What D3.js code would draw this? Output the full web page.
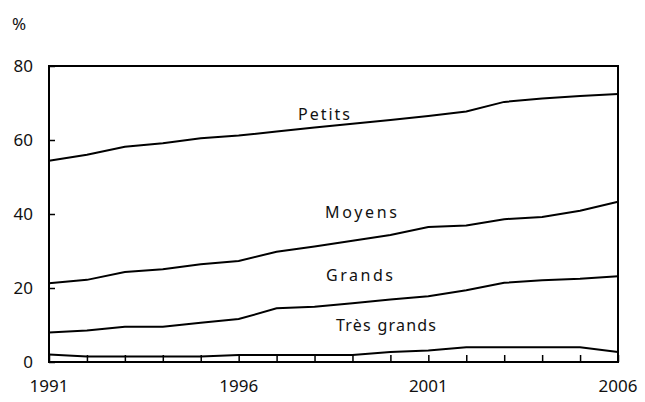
<!DOCTYPE html>
<html><head><meta charset="utf-8">
<script src="https://cdn.jsdelivr.net/npm/d3@7"></script>
<style>
body{margin:0;background:#fff;}
svg text{font-family:"Noto Sans",sans-serif;fill:#111;}
</style></head>
<body><svg id="c" width="645" height="402"></svg>
<script>
const years = [1991,1992,1993,1994,1995,1996,1997,1998,1999,2000,2001,2002,2003,2004,2005,2006];
const petits = [54.4,56.0,58.2,59.1,60.5,61.2,62.3,63.4,64.4,65.4,66.5,67.7,70.3,71.2,71.9,72.4];
const moyens = [21.3,22.2,24.3,25.1,26.4,27.3,29.8,31.2,32.8,34.3,36.5,36.9,38.6,39.2,40.9,43.3];
const grands = [8.0,8.5,9.5,9.5,10.6,11.6,14.5,14.9,15.9,16.9,17.8,19.4,21.4,22.1,22.5,23.2];
const tresGrands = [2.0,1.5,1.5,1.5,1.5,1.9,1.9,1.9,1.9,2.7,3.1,4.0,4.0,4.0,4.0,2.7];
const seriesNames = ["Petits","Moyens","Grands","Très grands"];
const yTicks = [0,20,40,60,80];
const xTickLabels = [1991,1996,2001,2006];

const svg = d3.select("#c");
const L=49,R=618,T=66,B=362;
const x = d3.scaleLinear().domain([1991,2006]).range([L,R]);
const y = d3.scaleLinear().domain([0,80]).range([B,T]);

// frame
svg.append("rect").attr("x",L).attr("y",T).attr("width",R-L).attr("height",B-T)
  .attr("fill","none").attr("stroke","#000").attr("stroke-width",2);

// y axis ticks (inward)
const ya = svg.append("g").attr("transform",`translate(${L},0)`)
  .call(d3.axisRight(y).tickValues(yTicks).tickSize(6).tickFormat(""));
ya.select(".domain").remove();
ya.selectAll("line").attr("stroke","#000").attr("stroke-width",1.5);
svg.selectAll(".ylab").data(yTicks).enter().append("text")
  .attr("x",33).attr("y",d=>y(d)).attr("dy","0.36em").attr("text-anchor","end")
  .attr("font-size",17).text(d=>d);

// x axis ticks (inward, every year)
const xa = svg.append("g").attr("transform",`translate(0,${B})`)
  .call(d3.axisTop(x).tickValues(years).tickSize(7).tickFormat(""));
xa.select(".domain").remove();
xa.selectAll("line").attr("stroke","#000").attr("stroke-width",1.5);
svg.selectAll(".xlab").data(xTickLabels).enter().append("text")
  .attr("x",d=>x(d)).attr("y",392).attr("text-anchor","middle")
  .attr("font-size",17).text(d=>d);

svg.append("text").attr("x",12).attr("y",30).attr("font-size",17).text("%");

const line = d3.line().x((d,i)=>x(years[i])).y(d=>y(d));
[petits,moyens,grands,tresGrands].forEach(s=>{
  svg.append("path").attr("d",line(s)).attr("fill","none")
    .attr("stroke","#000").attr("stroke-width",2);
});

const labels = [
  {t:seriesNames[0],x:298,y:120,w:52},
  {t:seriesNames[1],x:325,y:218,w:72},
  {t:seriesNames[2],x:326,y:281,w:67},
  {t:seriesNames[3],x:336,y:331,w:100}
];
labels.forEach(l=>{
  svg.append("text").attr("x",l.x).attr("y",l.y).attr("font-size",16)
    .attr("textLength",l.w).attr("lengthAdjust","spacing").text(l.t);
});
</script></body></html>
